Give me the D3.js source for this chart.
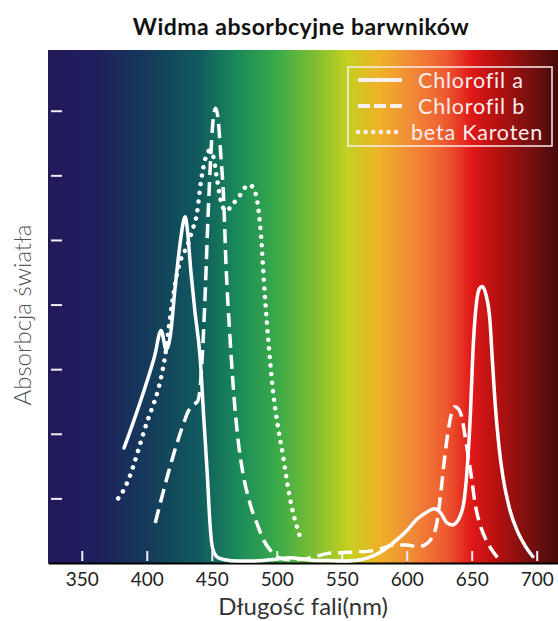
<!DOCTYPE html>
<html>
<head>
<meta charset="utf-8">
<script src="https://cdn.jsdelivr.net/npm/d3@7"></script>
<style>
  html, body { margin: 0; padding: 0; background: #fff; }
  svg { display: block; }
  text { font-family: Lato, "Open Sans", sans-serif; }
</style>
</head>
<body>
<svg id="chart" width="558" height="621"></svg>
<script>
// ---------------- data ----------------
const title = "Widma absorbcyjne barwników";
const xTitle = "Długość fali(nm)";
const yTitle = "Absorbcja światła";
const xTicks = [350, 400, 450, 500, 550, 600, 650, 700];
const yTicks = [1, 2, 3, 4, 5, 6, 7];
const seriesNames = ["Chlorofil a", "Chlorofil b", "beta Karoten"];

const chlA = [[382.5,1.78],[390,2.2],[400,2.8],[406,3.2],[411,3.6],[415,3.3],[418,3.5],[422,4.3],[426,5.0],[429.5,5.36],[431,5.2],[434,4.5],[437,3.9],[441,3.19],[444,2.2],[446.5,1.4],[448.5,0.65],[450,0.3],[452,0.15],[455,0.08],[460,0.05],[470,0.03],[480,0.03],[490,0.04],[500,0.06],[510,0.08],[520,0.06],[530,0.04],[540,0.04],[550,0.03],[560,0.04],[570,0.08],[580,0.17],[590,0.32],[600,0.5],[608,0.68],[615,0.78],[621,0.84],[626,0.78],[631,0.62],[635,0.59],[640,0.68],[644,0.95],[647,1.6],[649,2.3],[651,3.3],[653,3.9],[656,4.25],[658,4.28],[661,4.15],[664,3.76],[666,3.1],[668,2.48],[671,1.8],[674,1.34],[679,0.85],[685,0.5],[691,0.27],[697,0.1]];

const chlB = [[406.5,0.62],[412,1.05],[418,1.5],[424,1.9],[429,2.2],[432,2.35],[436,2.45],[439,2.5],[441,2.7],[443,3.3],[445,4.2],[447,5.3],[449,6.2],[451,6.85],[453,7.04],[455,6.85],[457,6.3],[459,5.7],[461,4.6],[464,3.5],[467,2.6],[470,1.95],[474,1.39],[479,0.95],[485,0.6],[490,0.35],[495,0.2],[502,0.08],[510,0.05],[520,0.06],[530,0.1],[540,0.15],[550,0.16],[560,0.17],[570,0.18],[580,0.22],[590,0.28],[600,0.28],[608,0.25],[614,0.28],[619,0.38],[623,0.6],[626,1.05],[629,1.6],[632,2.06],[635,2.35],[637,2.42],[640,2.38],[643,2.2],[645,1.95],[647,1.7],[650,1.3],[652.5,0.93],[656,0.62],[659,0.45],[664,0.25],[670,0.08]];

const betaK = [[378,1.0],[384,1.2],[389.5,1.49],[395,1.85],[400,2.17],[405,2.45],[409,2.7],[414,3.19],[419,3.96],[423,4.45],[427,4.74],[431,4.9],[435,5.15],[438.5,5.4],[442,5.95],[445,6.25],[448,6.38],[451,6.3],[454,5.95],[457,5.6],[461,5.45],[466,5.55],[472,5.7],[476,5.82],[479.5,5.85],[482,5.8],[485,5.6],[488,5.05],[490,4.4],[492.5,3.7],[495,3.1],[497,2.68],[501,2.1],[505,1.64],[508,1.25],[511.5,0.87],[515,0.6],[518,0.4]];

// spectrum background (wavelength -> colour)
const spectrumNm = [324, 360, 400, 440, 470, 500, 530, 555, 580, 605, 630, 650, 672, 695, 716];
const spectrumColors = ["#231a5a","#1f1f5e","#153a5a","#105a5e","#1a8a5a","#3aaa4a","#80bf30","#c6d020","#f0b028","#f08838","#ef5a30","#e01818","#b01010","#781010","#480a0a"];

// ---------------- layout ----------------
const svg = d3.select("#chart");
const L = 48, R = 558, T = 50, B = 563;

const x = d3.scaleLinear().domain([324, 716.4]).range([L, R]);
const y = d3.scaleLinear().domain([0, 7.94]).range([B, T]);

const defs = svg.append("defs");
const grad = defs.append("linearGradient")
  .attr("id", "spec").attr("gradientUnits", "userSpaceOnUse")
  .attr("x1", L).attr("x2", R).attr("y1", 0).attr("y2", 0);
spectrumNm.forEach((nm, i) => {
  grad.append("stop")
    .attr("offset", (x(nm) - L) / (R - L))
    .attr("stop-color", spectrumColors[i]);
});

svg.append("rect")
  .attr("x", L).attr("y", T).attr("width", R - L).attr("height", B - T)
  .attr("fill", "url(#spec)");

// title
svg.append("text")
  .attr("x", 301).attr("y", 35)
  .attr("text-anchor", "middle")
  .attr("font-size", 23).attr("font-weight", "bold").attr("fill", "#111")
  .attr("letter-spacing", 0.5)
  .text(title);

// x axis
const xAxis = svg.append("g")
  .attr("transform", `translate(0,${B})`)
  .call(d3.axisBottom(x).tickValues(xTicks).tickSize(0).tickPadding(10).tickFormat(d3.format("d")));
xAxis.select(".domain").attr("stroke", "#000").attr("stroke-width", 2);
xAxis.selectAll(".tick text").attr("font-size", 19).attr("fill", "#222")
  .style("font-family", "Lato, 'Open Sans', sans-serif");
xAxis.selectAll(".tick").append("line")
  .attr("y1", -2).attr("y2", -12)
  .attr("stroke", "#f2eef6").attr("stroke-width", 2);

// y axis ticks (inside, no labels)
const yAxis = svg.append("g")
  .attr("transform", `translate(${L + 3},0)`)
  .call(d3.axisRight(y).tickValues(yTicks).tickSize(11).tickFormat(""));
yAxis.select(".domain").remove();
yAxis.selectAll(".tick line").attr("stroke", "#f2eef6").attr("stroke-width", 2);

// axis titles
svg.append("text")
  .attr("x", 303).attr("y", 615)
  .attr("text-anchor", "middle")
  .attr("font-size", 24).attr("fill", "#333")
  .text(xTitle);

svg.append("text")
  .attr("transform", "translate(31,315) rotate(-90)")
  .attr("text-anchor", "middle")
  .attr("font-size", 24).attr("fill", "#555").attr("font-weight", 300)
  .text(yTitle);

// curves
const line = d3.line().x(d => x(d[0])).y(d => y(d[1])).curve(d3.curveMonotoneX);
const styles = [
  { dash: null, cap: "round" },
  { dash: "14 7", cap: "butt" },
  { dash: "0.1 8.5", cap: "round" }
];
const series = [chlA, chlB, betaK];

svg.append("g").selectAll("path")
  .data(series)
  .join("path")
  .attr("d", line)
  .attr("fill", "none")
  .attr("stroke", "#fff")
  .attr("stroke-width", (d, i) => i === 2 ? 4.5 : 3.5)
  .attr("stroke-linecap", (d, i) => styles[i].cap)
  .attr("stroke-linejoin", "round")
  .attr("stroke-dasharray", (d, i) => styles[i].dash);

// legend
const lg = svg.append("g");
lg.append("rect")
  .attr("x", 348).attr("y", 67).attr("width", 204).attr("height", 79)
  .attr("fill", "none").attr("stroke", "#f6eeee").attr("stroke-width", 1.5);
const legendRows = [80, 106, 132];
const legendDash = [null, "12 4", "0.1 7.5"];
seriesNames.forEach((name, i) => {
  lg.append("line")
    .attr("x1", 358).attr("x2", 402)
    .attr("y1", legendRows[i]).attr("y2", legendRows[i])
    .attr("stroke", "#f8f0f0").attr("stroke-width", i === 2 ? 4.5 : 4)
    .attr("stroke-linecap", i === 2 ? "round" : "butt")
    .attr("stroke-dasharray", legendDash[i]);
  lg.append("text")
    .attr("x", i === 2 ? 411 : 418).attr("y", legendRows[i])
    .attr("dy", "0.35em")
    .attr("font-size", 21.5).attr("fill", "#f8eeee")
    .attr("letter-spacing", 0.8)
    .text(name);
});
</script>
</body>
</html>
